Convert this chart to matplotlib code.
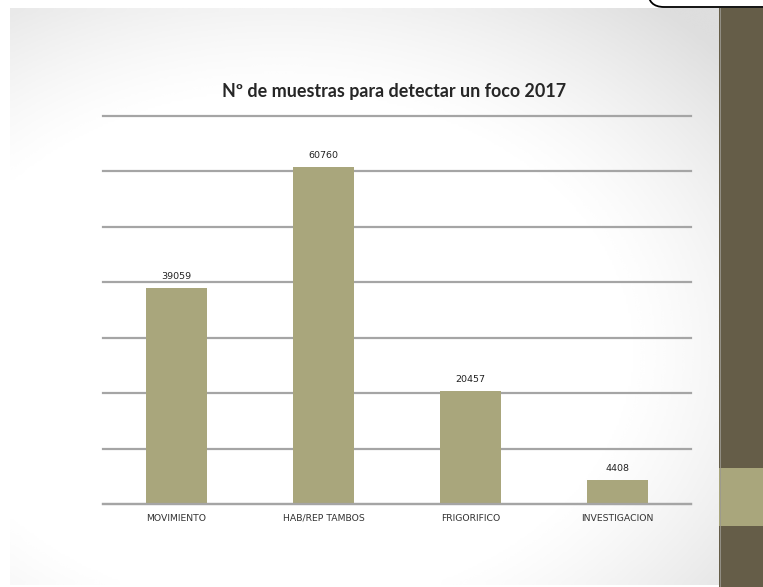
import matplotlib as mpl
mpl.use('Agg')
import matplotlib.pyplot as plt
from matplotlib.patches import Rectangle, FancyBboxPatch
import numpy as np

categories = ['MOVIMIENTO', 'HAB/REP TAMBOS', 'FRIGORIFICO', 'INVESTIGACION']
muestras = [39059, 60760, 20457, 4408]
y_ticks = [0, 10000, 20000, 30000, 40000, 50000, 60000, 70000]

W, H = 763, 587
BAR = '#a9a67c'
DARK = '#655d48'
GRID = '#a5a5a5'

fig = plt.figure(figsize=(W / 100, H / 100), dpi=100)
fig.patch.set_facecolor('white')

# slide background: pixel-space axes with a soft off-centre shading
bg = fig.add_axes([0, 0, 1, 1], zorder=0)
bg.set_xlim(0, W)
bg.set_ylim(H, 0)
bg.axis('off')

x0, x1, y0, y1 = 10, 719, 8, 585
xx, yy = np.meshgrid(np.linspace(x0, x1, 300), np.linspace(y0, y1, 250))
d = np.sqrt((xx - 280) ** 2 + (1.35 * (yy - 350)) ** 2)
shade = 1 - 0.13 * np.clip((d - 340) / 260, 0, 1) ** 1.3
bg.imshow(shade, cmap='gray', vmin=0, vmax=1, extent=(x0, x1, y1, y0),
          aspect='auto', interpolation='bicubic')

# right-hand band of the slide template
bg.add_patch(Rectangle((719, 8), W - 719, H - 8, color=DARK, lw=0))
bg.add_patch(Rectangle((719, 468), W - 719, 58, color=BAR, lw=0))
bg.plot([719.5, 719.5], [8, H], color='#9a9890', lw=0.6)

# rounded callout box peeking in at the top
bg.add_patch(FancyBboxPatch((648, -40), 160, 47,
                            boxstyle='round,pad=0,rounding_size=16',
                            fc='white', ec='black', lw=1.3))

# bar chart
ax = fig.add_axes([103 / W, 1 - 504 / H, 588 / W, 388 / H], zorder=1)
ax.set_facecolor('none')
x = np.arange(len(categories))
bars = ax.bar(x, muestras, width=0.41, color=BAR, zorder=2)
ax.set_xlim(-0.5, len(categories) - 0.5)
ax.set_ylim(0, y_ticks[-1])
ax.set_yticks(y_ticks)
ax.yaxis.grid(True, color=GRID, lw=1.6, zorder=1)
for gl in ax.get_ygridlines():
    gl.set_clip_on(False)
ax.set_axisbelow(True)
ax.tick_params(axis='y', left=False, labelleft=False)
ax.tick_params(axis='x', length=0, pad=7)
ax.set_xticks(x)
ax.set_xticklabels(categories, fontsize=6.7, color='#333333', family='DejaVu Sans')
for s in ['top', 'right', 'left']:
    ax.spines[s].set_visible(False)
ax.spines['bottom'].set_color(GRID)
ax.spines['bottom'].set_linewidth(1.6)

for b, val in zip(bars, muestras):
    ax.annotate(str(val), (b.get_x() + b.get_width() / 2, val),
                xytext=(0, 5), textcoords='offset points',
                ha='center', va='bottom', fontsize=6.8, color='#222222',
                family='DejaVu Sans')

fig.text(394 / W, 1 - 92 / H, 'Nº de muestras para detectar un foco 2017',
         ha='center', va='center', fontsize=12.9, fontweight='bold',
         family=['Lato', 'DejaVu Sans'], color='#262626')

fig.savefig('out.png', dpi=100)
